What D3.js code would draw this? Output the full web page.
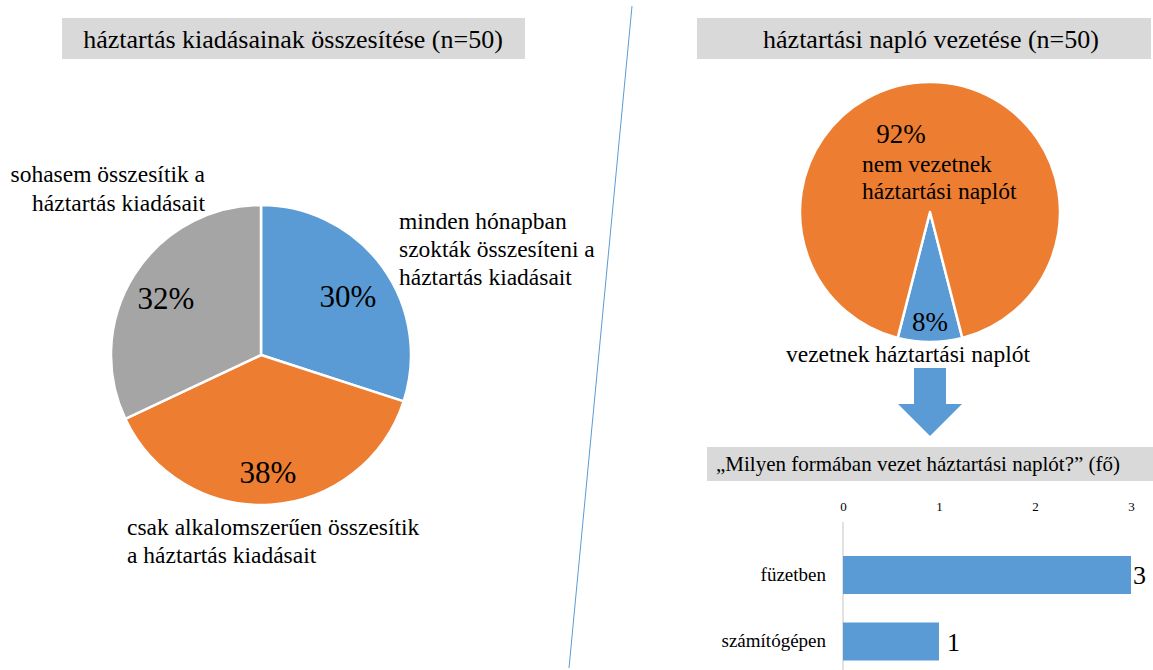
<!DOCTYPE html>
<html>
<head>
<meta charset="utf-8">
<script src="https://cdn.jsdelivr.net/npm/d3@7"></script>
<style>
  html, body { margin: 0; padding: 0; background: #fff; }
  svg { display: block; font-family: "Liberation Serif", "Times New Roman", serif; }
</style>
</head>
<body>
<svg id="chart" width="1153" height="670"></svg>
<script>
// ---------- DATA ----------
const leftTitle = "háztartás kiadásainak összesítése (n=50)";
const leftCategories = [
  "minden hónapban szokták összesíteni a háztartás kiadásait",
  "csak alkalomszerűen összesítik a háztartás kiadásait",
  "sohasem összesítik a háztartás kiadásait"
];
const leftValues = [30, 38, 32];

const rightTitle = "háztartási napló vezetése (n=50)";
const rightCategories = ["vezetnek háztartási naplót", "nem vezetnek háztartási naplót"];
const rightValues = [8, 92];

const barTitle = "„Milyen formában vezet háztartási naplót?” (fő)";
const barCategories = ["füzetben", "számítógépen"];
const barValues = [3, 1];
const barTicks = [0, 1, 2, 3];

// ---------- STYLE ----------
const BLUE = "#5B9BD5", ORANGE = "#ED7D31", GRAY = "#A5A5A5", BOX = "#D9D9D9";
const svg = d3.select("#chart");

// divider line
svg.append("line").attr("x1", 632).attr("y1", 6).attr("x2", 569).attr("y2", 668)
  .attr("stroke", BLUE).attr("stroke-width", 1);

// title boxes
function titleBox(x, y, w, h, text, fs, tx, anchor) {
  svg.append("rect").attr("x", x).attr("y", y).attr("width", w).attr("height", h).attr("fill", BOX);
  svg.append("text").attr("x", tx).attr("y", y + h / 2).attr("dy", "0.35em")
    .attr("text-anchor", anchor).attr("font-size", fs).attr("fill", "#000").text(text);
}
titleBox(62, 18, 463, 41, leftTitle, 26, 293, "middle");
titleBox(697, 18, 454, 41, rightTitle, 26, 931, "middle");

// ---------- LEFT PIE ----------
const leftColors = [BLUE, ORANGE, GRAY];
const lpie = d3.pie().sort(null).value(d => d)(leftValues);
const larc = d3.arc().innerRadius(0).outerRadius(150);
const gL = svg.append("g").attr("transform", "translate(261,355)");
gL.selectAll("path").data(lpie).join("path")
  .attr("d", larc).attr("fill", (d, i) => leftColors[i])
  .attr("stroke", "#fff").attr("stroke-width", 2.5).attr("stroke-linejoin", "round");

const total = d3.sum(leftValues);
const lPctPos = [[348, 307], [268, 483], [166, 309]];
gL.selectAll("text.pct").data(lpie).join("text").attr("class", "pct")
  .attr("x", (d, i) => lPctPos[i][0] - 261).attr("y", (d, i) => lPctPos[i][1] - 355)
  .attr("text-anchor", "middle").attr("font-size", 31)
  .text(d => Math.round(d.data / total * 100) + "%");

// category labels (wrapped lines)
const lLabelLines = [
  ["minden hónapban", "szokták összesíteni a", "háztartás kiadásait"],
  ["csak alkalomszerűen összesítik", "a háztartás kiadásait"],
  ["sohasem összesítik a", "háztartás kiadásait"]
];
const lLabelPos = [
  { x: 399, y: 229, anchor: "start", lh: 28 },
  { x: 127, y: 535, anchor: "start", lh: 28 },
  { x: 205, y: 182, anchor: "end", lh: 29 }
];
lLabelLines.forEach((lines, i) => {
  const p = lLabelPos[i];
  const t = svg.append("text").attr("font-size", 23.5).attr("text-anchor", p.anchor);
  lines.forEach((ln, j) => t.append("tspan").attr("x", p.x).attr("y", p.y + j * p.lh).text(ln));
});

// ---------- RIGHT PIE ----------
const rColors = [BLUE, ORANGE];
const rTotal = d3.sum(rightValues);
const startA = Math.PI - (rightValues[0] / rTotal) * Math.PI;
const rpie = d3.pie().sort(null).value(d => d).startAngle(startA).endAngle(startA + 2 * Math.PI)(rightValues);
const rarc = d3.arc().innerRadius(0).outerRadius(130);
const gR = svg.append("g").attr("transform", "translate(930,212)");
gR.selectAll("path").data(rpie).join("path")
  .attr("d", rarc).attr("fill", (d, i) => rColors[i])
  .attr("stroke", "#fff").attr("stroke-width", 2.5).attr("stroke-linejoin", "round");

const rPctPos = [[930, 331], [901, 143]];
rpie.forEach((d, i) => {
  svg.append("text").attr("x", rPctPos[i][0]).attr("y", rPctPos[i][1])
    .attr("text-anchor", "middle").attr("font-size", 27)
    .text(Math.round(d.data / rTotal * 100) + "%");
});
// orange label inside pie
const rIn = svg.append("text").attr("font-size", 23.5).attr("text-anchor", "start");
["nem vezetnek", "háztartási naplót"].forEach((ln, j) =>
  rIn.append("tspan").attr("x", 862).attr("y", 172 + j * 27).text(ln));
// blue label below
svg.append("text").attr("x", 908).attr("y", 362).attr("text-anchor", "middle")
  .attr("font-size", 23.5).text(rightCategories[0]);

// arrow
svg.append("path")
  .attr("d", "M914,368 L946,368 L946,404 L962,404 L930,436 L898,404 L914,404 Z")
  .attr("fill", BLUE);

// ---------- BAR CHART ----------
titleBox(707, 447, 446, 34, barTitle, 21, 716, "start");

const x = d3.scaleLinear().domain([0, 3]).range([843, 1131]);
const y = d3.scaleBand().domain(barCategories).range([541.75, 674.75])
  .paddingInner(0.4286).paddingOuter(0.2143);

// top axis labels
const xAxis = d3.axisTop(x).tickValues(barTicks).tickSize(0).tickPadding(0).tickFormat(d3.format("d"));
const gx = svg.append("g").attr("transform", "translate(0,511)").call(xAxis);
gx.select(".domain").remove();
gx.selectAll("text").attr("font-family", "Liberation Serif, serif").attr("font-size", 13).attr("fill", "#000").attr("dy", 0);

// vertical axis line
svg.append("line").attr("x1", x(0)).attr("x2", x(0)).attr("y1", 522).attr("y2", 670)
  .attr("stroke", "#D9D9D9").attr("stroke-width", 1.5);

svg.selectAll("rect.bar").data(barValues).join("rect").attr("class", "bar")
  .attr("x", x(0)).attr("y", (d, i) => y(barCategories[i]))
  .attr("width", d => x(d) - x(0)).attr("height", y.bandwidth()).attr("fill", BLUE);

// value labels
svg.selectAll("text.val").data(barValues).join("text").attr("class", "val")
  .attr("x", d => x(d) + (d === 3 ? 2 : 8)).attr("y", (d, i) => y(barCategories[i]) + y.bandwidth() / 2)
  .attr("dy", "0.35em").attr("font-size", 26).text(d => d);

// category labels
svg.selectAll("text.cat").data(barCategories).join("text").attr("class", "cat")
  .attr("x", 826).attr("y", d => y(d) + y.bandwidth() / 2).attr("dy", "0.3em")
  .attr("text-anchor", "end").attr("font-size", 19).text(d => d);
</script>
</body>
</html>
